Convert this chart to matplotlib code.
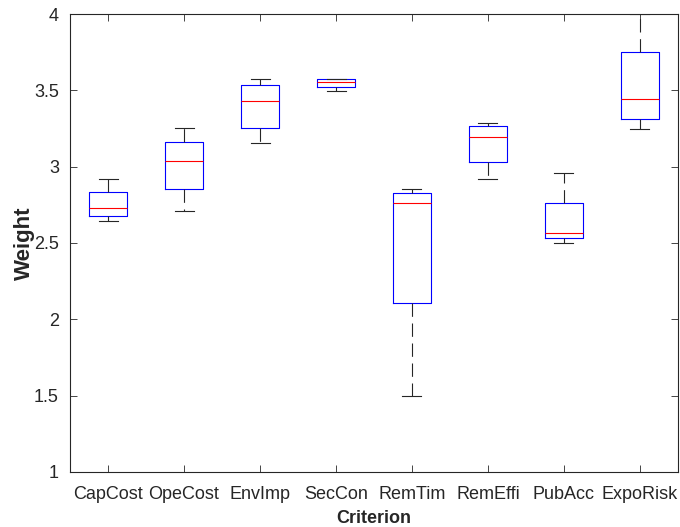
import matplotlib
matplotlib.use("Agg")
import matplotlib.pyplot as plt

plt.rcParams['font.family'] = ['Liberation Sans', 'DejaVu Sans']

criteria = ["CapCost", "OpeCost", "EnvImp", "SecCon", "RemTim", "RemEffi", "PubAcc", "ExpoRisk"]
whisker_low = [2.642, 2.712, 3.153, 3.498, 1.496, 2.921, 2.498, 3.249]
q1 = [2.677, 2.856, 3.255, 3.522, 2.105, 3.031, 2.533, 3.314]
median = [2.729, 3.035, 3.430, 3.555, 2.760, 3.196, 2.566, 3.443]
q3 = [2.834, 3.162, 3.532, 3.572, 2.830, 3.266, 2.764, 3.749]
whisker_high = [2.921, 3.251, 3.572, 3.572, 2.856, 3.284, 2.961, 4.0]
yticks = [1, 1.5, 2, 2.5, 3, 3.5, 4]
ytick_labels = ["1", "1.5", "2", "2.5", "3", "3.5", "4"]

stats = []
for i, name in enumerate(criteria):
    stats.append(dict(label=name, whislo=whisker_low[i], q1=q1[i], med=median[i],
                      q3=q3[i], whishi=whisker_high[i], fliers=[]))

fig = plt.figure(figsize=(6.8, 5.27), dpi=100)
ax = fig.add_axes([0.103, 0.1044, 0.894, 0.869])

axcol = (0.15, 0.15, 0.15)
ax.bxp(stats, positions=range(1, len(criteria) + 1), widths=0.5, capwidths=0.25,
       showfliers=False,
       boxprops=dict(color='blue', linewidth=0.8),
       medianprops=dict(color='red', linewidth=0.8),
       whiskerprops=dict(color=axcol, linewidth=0.8, linestyle=(0, (12, 6))),
       capprops=dict(color=axcol, linewidth=0.8))

ax.set_xlim(0.5, 8.5)
ax.set_ylim(1, 4)
ax.set_yticks(yticks)
ax.set_yticklabels(ytick_labels)
ax.set_xticks(range(1, len(criteria) + 1))
ax.set_xticklabels(criteria)

for s in ax.spines.values():
    s.set_color(axcol)
    s.set_linewidth(0.8)
ax.tick_params(direction='in', length=5, width=0.6, color=axcol, labelsize=13,
               labelcolor=axcol, top=True, right=True)
ax.tick_params(axis='x', pad=10)
ax.tick_params(axis='y', pad=8)

ax.set_xlabel("Criterion", fontsize=13, fontweight='bold', color=axcol)
ax.set_ylabel("Weight", fontsize=16, fontweight='bold', color=axcol)
ax.xaxis.set_label_coords(0.5, -0.082)
ax.yaxis.set_label_coords(-0.058, 0.5)

fig.savefig("out.png", dpi=100)
